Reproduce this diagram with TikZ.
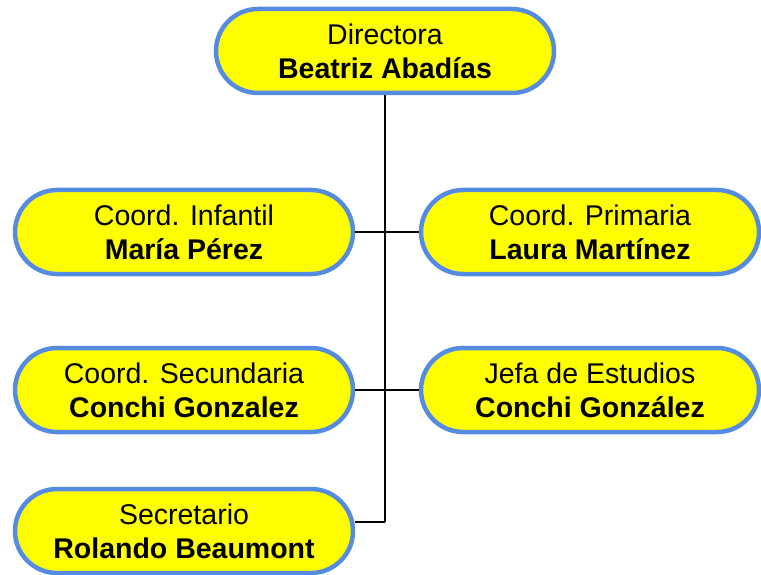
\documentclass[tikz,border=0pt]{standalone}
\usepackage{fontspec}
\setmainfont{Liberation Sans}
\definecolor{bordeazul}{RGB}{86,139,226}
\definecolor{amarillo}{RGB}{255,255,0}
\begin{document}
\begin{tikzpicture}[x=1pt,y=-1pt,
  cargo/.style={draw=bordeazul, line width=4.5pt, fill=amarillo,
    rounded corners=42pt, minimum width=338pt, minimum height=84pt,
    align=center, inner sep=0pt,
    font=\fontsize{28.5}{34}\selectfont},
  enlace/.style={draw=black, line width=2pt}]
\useasboundingbox (0,0) rectangle (761,575);
\node[cargo] (dir) at (385,51) {Directora\\\textbf{Beatriz Abadías}};
\node[cargo] (inf) at (184,232) {Coord. Infantil\\\textbf{María Pérez}};
\node[cargo] (pri) at (590,232) {Coord. Primaria\\\textbf{Laura Martínez}};
\node[cargo] (sec) at (184,390) {Coord. Secundaria\\\textbf{Conchi Gonzalez}};
\node[cargo] (jef) at (590,390) {Jefa de Estudios\\\textbf{Conchi González}};
\node[cargo] (secr) at (184,531) {Secretario\\\textbf{Rolando Beaumont}};
\coordinate (codo) at (385,522);
\draw[enlace] (dir.south) -- (codo);
\draw[enlace] (inf.east) -- (pri.west);
\draw[enlace] (sec.east) -- (jef.west);
\draw[enlace] (secr.east |- codo) -- (codo);
\end{tikzpicture}
\end{document}
